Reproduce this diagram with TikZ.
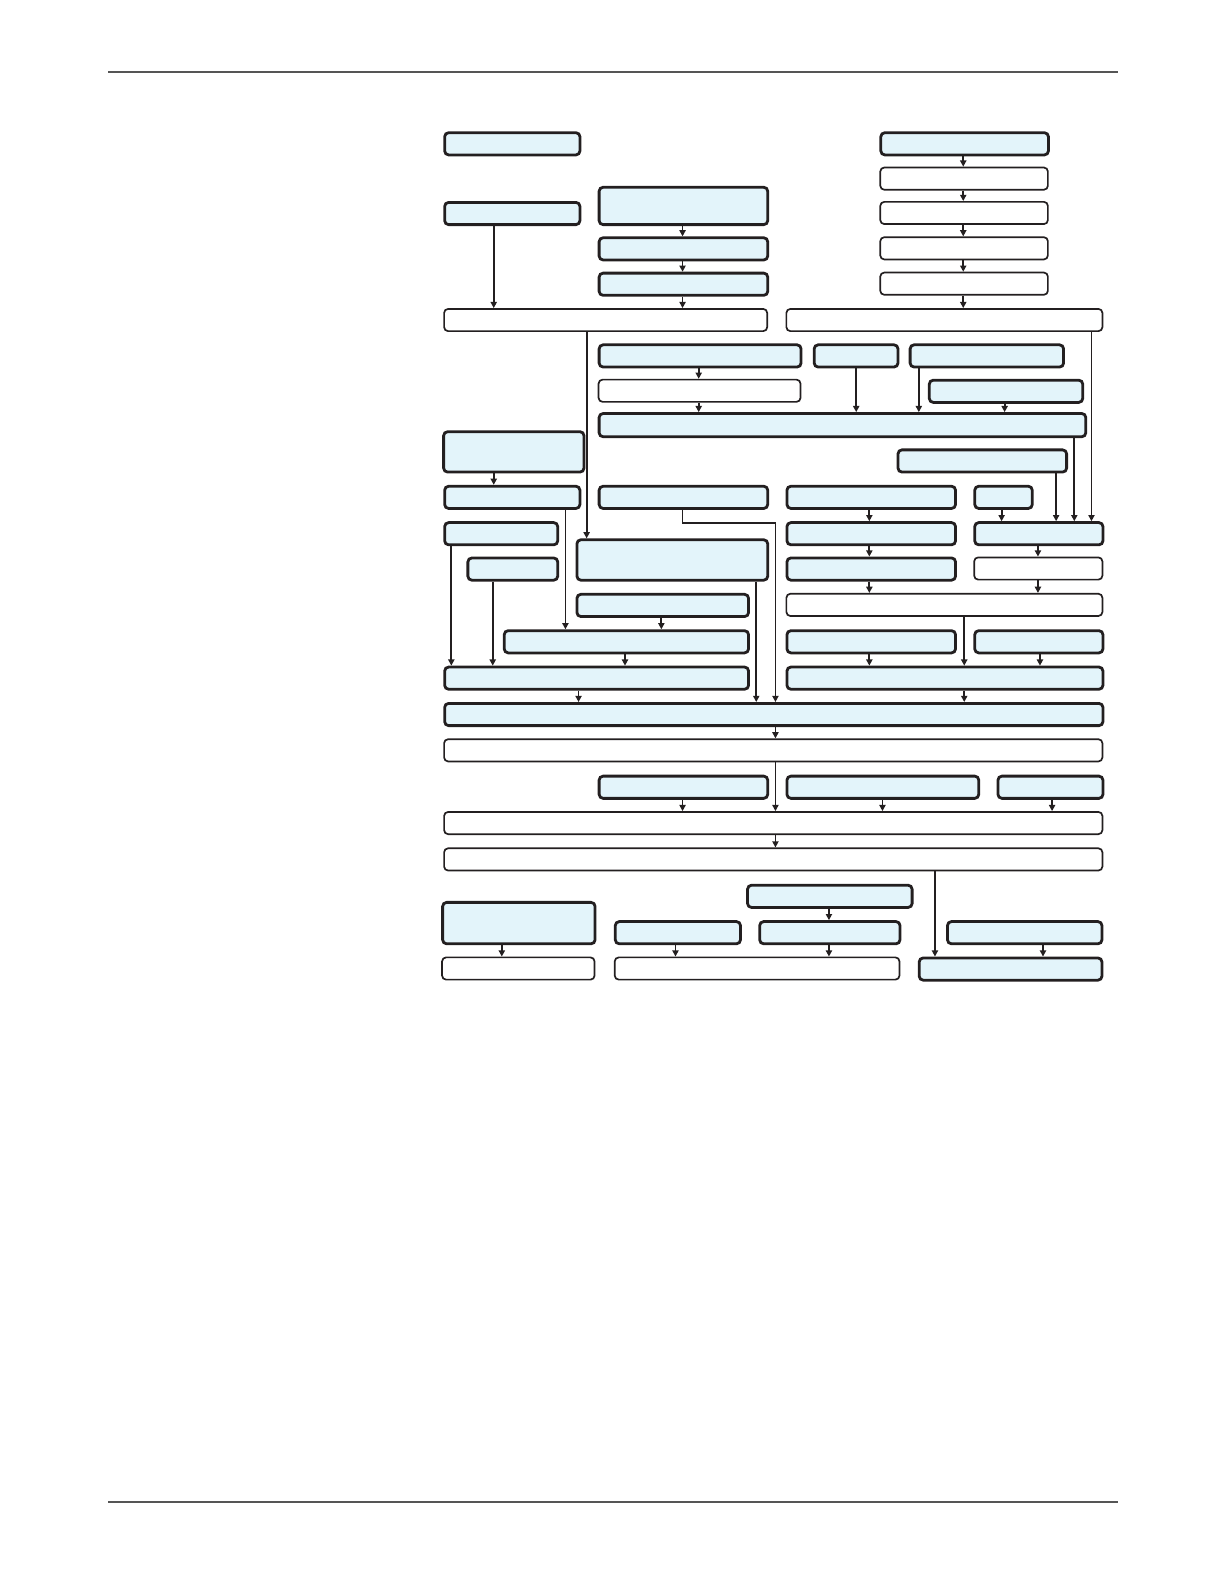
\documentclass[tikz,border=0pt]{standalone}
\usetikzlibrary{arrows.meta}
\definecolor{boxblue}{HTML}{E3F4FA}
\definecolor{ink}{HTML}{231F20}
\definecolor{rule}{HTML}{555555}
\tikzset{
  bluebox/.style={draw=ink, fill=boxblue, line width=1.4pt, rounded corners=2pt, inner sep=0pt},
  whitebox/.style={draw=ink, fill=white, line width=0.85pt, rounded corners=2pt, inner sep=0pt},
  arr/.style={draw=ink, line width=0.9pt, -{Triangle[length=3.1pt,width=3.1pt]}},
  rulestyle/.style={draw=rule, line width=1.1pt}
}
\newcommand\bx[6]{\node[#2, anchor=north west, minimum width={(#5-#3)*0.50485bp}, minimum height={(#6-#4)*0.50505bp}] (#1) at (#3,#4) {};}
\newcommand\varr[3]{\draw[arr] (#1,0 |- #2.south) -- (#1,0 |- #3.north);}
\begin{document}
\begin{tikzpicture}[x=0.50485bp,y=-0.50505bp]
\useasboundingbox (0,0) rectangle (1212.3,1568.2);
\draw[rulestyle] (107,71) -- (1107,71);
\draw[rulestyle] (107,1487) -- (1107,1487);
% top rows
\bx{B1}{bluebox}{439}{130}{573}{152}
\bx{R1}{bluebox}{871}{130}{1037}{152}
\bx{B2}{bluebox}{439}{199}{573}{221}
\bx{B3}{bluebox}{592}{184}{759}{221}
\bx{R2}{whitebox}{871}{165}{1037}{187}
\bx{R3}{whitebox}{871}{199}{1037}{221}
\bx{B4}{bluebox}{592}{234}{759}{256}
\bx{R4}{whitebox}{871}{234}{1037}{256}
\bx{B5}{bluebox}{592}{269}{759}{291}
\bx{R5}{whitebox}{871}{269}{1037}{291}
\bx{W1}{whitebox}{439}{305}{759}{327}
\bx{W2}{whitebox}{778}{305}{1091}{327}
% D block
\bx{D1}{bluebox}{592}{340}{792}{362}
\bx{D2}{bluebox}{805}{340}{888}{362}
\bx{D3}{bluebox}{900}{340}{1052}{362}
\bx{D4}{whitebox}{592}{375}{792}{397}
\bx{D5}{bluebox}{919}{375}{1071}{397}
\bx{D6}{bluebox}{592}{408}{1074}{431}
% middle
\bx{L1}{bluebox}{438}{426}{577}{466}
\bx{F1}{bluebox}{888}{444}{1055}{466}
\bx{L2}{bluebox}{439}{480}{573}{502}
\bx{M1}{bluebox}{592}{480}{759}{502}
\bx{N1}{bluebox}{778}{480}{945}{502}
\bx{O1}{bluebox}{964}{480}{1021}{502}
\bx{L3}{bluebox}{439}{516}{551}{538}
\bx{N2}{bluebox}{778}{516}{945}{538}
\bx{E1}{bluebox}{964}{516}{1091}{538}
\bx{C1}{bluebox}{570}{533}{759}{573}
\bx{L4}{bluebox}{462}{551}{551}{573}
\bx{N3}{bluebox}{778}{551}{945}{573}
\bx{E2}{whitebox}{964}{551}{1091}{573}
\bx{P1}{bluebox}{570}{587}{740}{609}
\bx{W3}{whitebox}{778}{587}{1091}{609}
\bx{P2}{bluebox}{498}{623}{740}{645}
\bx{Q1}{bluebox}{778}{623}{945}{645}
\bx{Q2}{bluebox}{964}{623}{1091}{645}
\bx{P3}{bluebox}{439}{659}{740}{681}
\bx{Q3}{bluebox}{778}{659}{1091}{681}
\bx{G1}{bluebox}{439}{695}{1091}{717}
\bx{W4}{whitebox}{439}{731}{1091}{753}
\bx{S1}{bluebox}{592}{767}{759}{789}
\bx{S2}{bluebox}{778}{767}{968}{789}
\bx{S3}{bluebox}{987}{767}{1091}{789}
\bx{W5}{whitebox}{439}{803}{1091}{825}
\bx{W6}{whitebox}{439}{839}{1091}{861}
% bottom
\bx{T1}{bluebox}{739}{875}{902}{897}
\bx{U1}{bluebox}{437}{892}{588}{933}
\bx{U2}{bluebox}{608}{911}{732}{933}
\bx{U3}{bluebox}{751}{911}{890}{933}
\bx{U4}{bluebox}{937}{911}{1090}{933}
\bx{V1}{whitebox}{437}{947}{588}{969}
\bx{V2}{whitebox}{608}{947}{890}{969}
\bx{V3}{bluebox}{909}{947}{1090}{969}
% connectors
\varr{489}{B2}{W1}
\varr{676}{B3}{B4}
\varr{676}{B4}{B5}
\varr{676}{B5}{W1}
\varr{954}{R1}{R2}
\varr{954}{R2}{R3}
\varr{954}{R3}{R4}
\varr{954}{R4}{R5}
\varr{954}{R5}{W2}
\varr{581}{W1}{C1}
\varr{1081}{W2}{E1}
\varr{692}{D1}{D4}
\varr{692}{D4}{D6}
\varr{848}{D2}{D6}
\varr{910}{D3}{D6}
\varr{995}{D5}{D6}
\varr{1064}{D6}{E1}
\varr{1046}{F1}{E1}
\varr{489}{L1}{L2}
\varr{992}{O1}{E1}
\varr{861}{N1}{N2}
\varr{861}{N2}{N3}
\varr{1028}{E1}{E2}
\varr{861}{N3}{W3}
\varr{1028}{E2}{W3}
\varr{655}{P1}{P2}
\varr{560}{L2}{P2}
\varr{447}{L3}{P3}
\varr{488}{L4}{P3}
\varr{619}{P2}{P3}
\varr{861}{Q1}{Q3}
\varr{955}{W3}{Q3}
\varr{1030}{Q2}{Q3}
\varr{573}{P3}{G1}
\varr{749}{C1}{G1}
\coordinate (mturnA) at (676,518);
\coordinate (mturnB) at (768,518);
\draw[arr] (676,0 |- M1.south) -- (mturnA) -- (mturnB) -- (768,0 |- G1.north);
\varr{955}{Q3}{G1}
\varr{768}{G1}{W4}
\varr{768}{W4}{W5}
\varr{676}{S1}{W5}
\varr{874}{S2}{W5}
\varr{1042}{S3}{W5}
\varr{768}{W5}{W6}
\varr{821}{T1}{U3}
\varr{497}{U1}{V1}
\varr{669}{U2}{V2}
\varr{821}{U3}{V2}
\varr{1033}{U4}{V3}
\varr{926}{W6}{V3}
\end{tikzpicture}
\end{document}
